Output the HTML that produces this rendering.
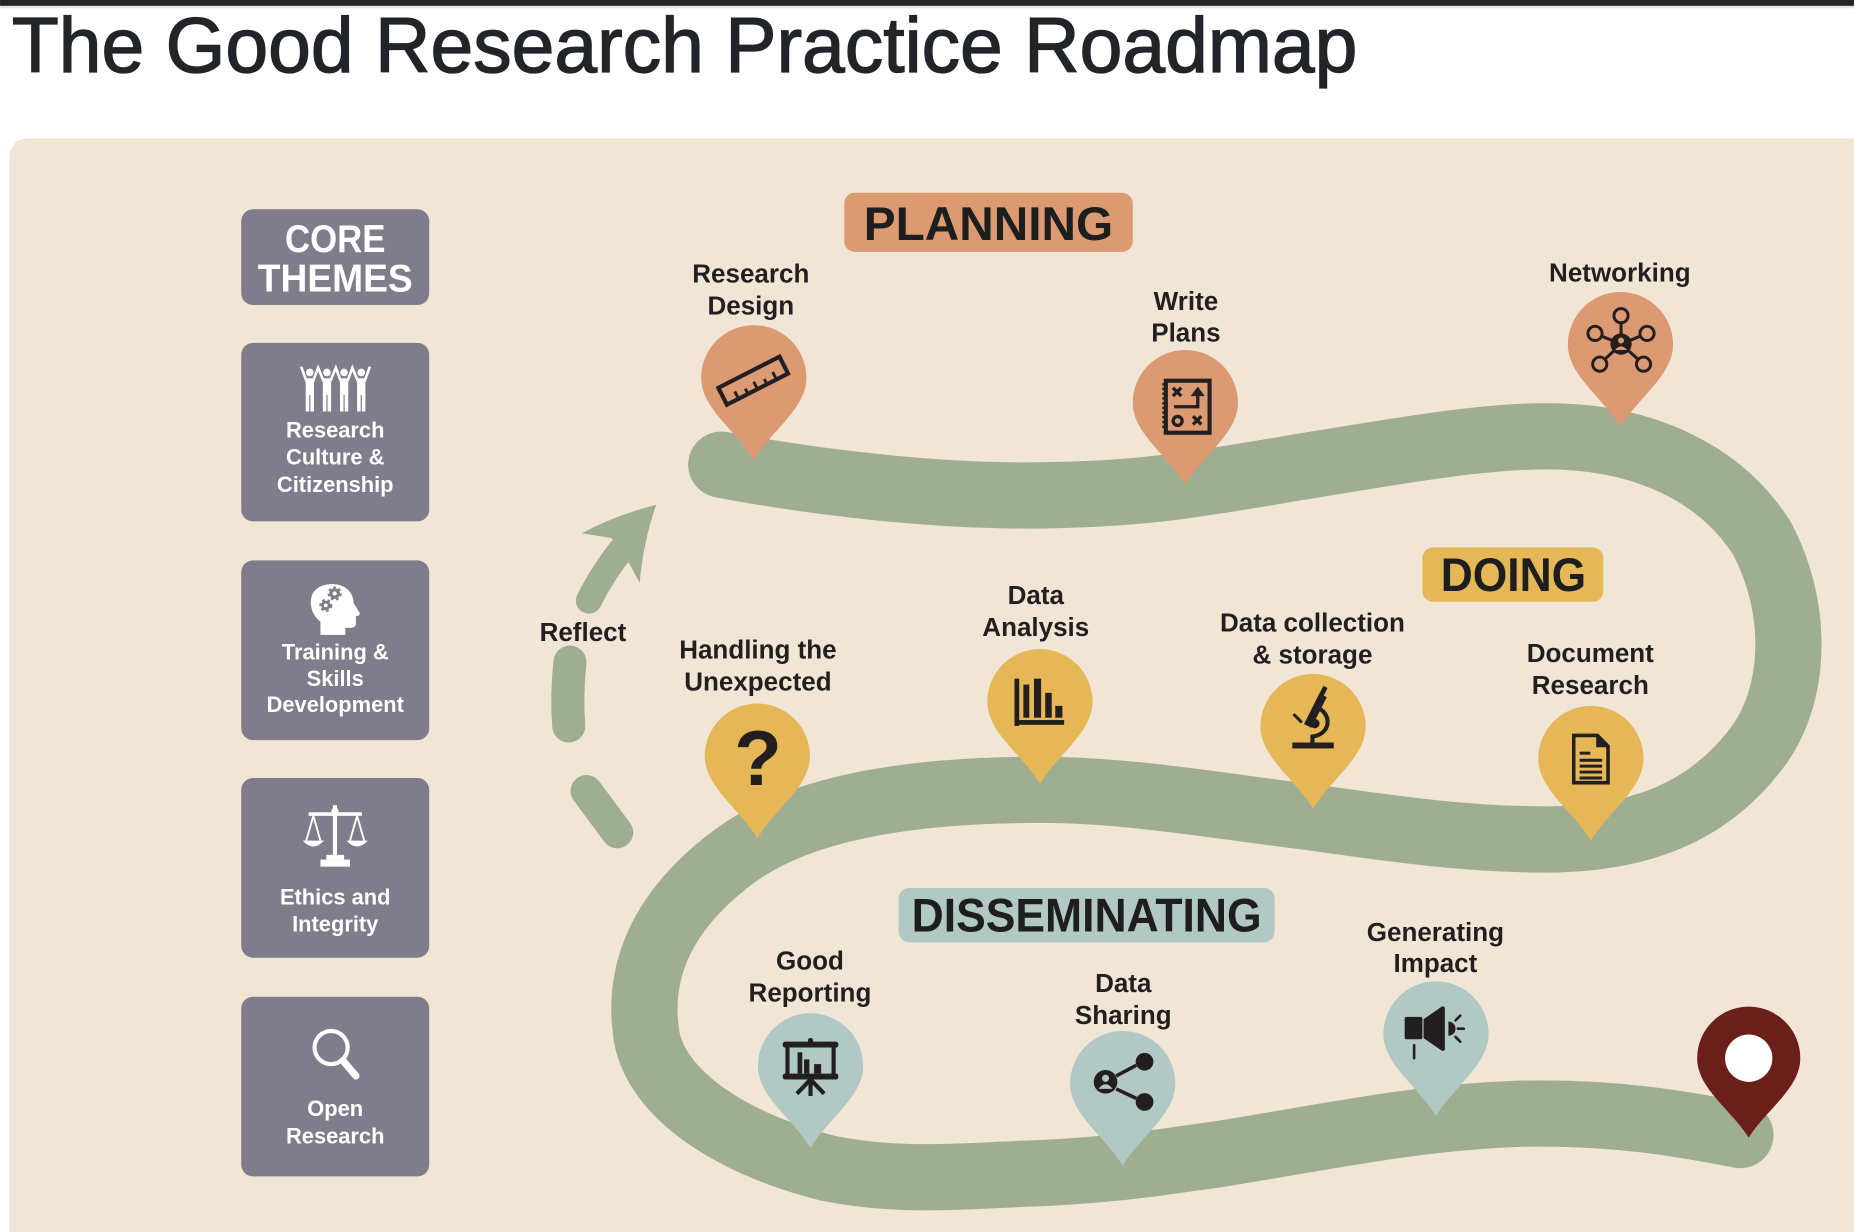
<!DOCTYPE html>
<html>
<head>
<meta charset="utf-8">
<style>
  html, body { margin:0; padding:0; background:#ffffff; }
  body { width:1854px; height:1232px; overflow:hidden; }
  svg { display:block; }
  .lbl { font-family:"Liberation Sans", Arial, sans-serif; font-weight:bold; font-size:22px; fill:#231f20; text-anchor:middle; }
  .box { font-family:"Liberation Sans", Arial, sans-serif; font-weight:bold; font-size:18.5px; fill:#ffffff; text-anchor:middle; }
  .phase { font-family:"Liberation Sans", Arial, sans-serif; font-weight:bold; font-size:40px; fill:#1e1e1e; text-anchor:middle; }
</style>
</head>
<body>
<svg width="1854" height="1232" viewBox="0 0 1568 1042" xmlns="http://www.w3.org/2000/svg">
  <!-- top bar -->
  <rect x="0" y="0" width="1568" height="5" fill="#212529"/>
  <rect x="0" y="5" width="1568" height="2" fill="#e4e6e9"/>
  <!-- title -->
  <text x="10" y="61" font-family="Liberation Sans, Arial, sans-serif" font-size="66" fill="#212529" stroke="#212529" stroke-width="1.1" textLength="1138" lengthAdjust="spacingAndGlyphs">The Good Research Practice Roadmap</text>

  <!-- panel -->
  <rect x="8" y="117" width="1600" height="960" rx="15" fill="#f1e6d6"/>

  <!-- left column boxes -->
  <g fill="#7f7c8b">
    <rect x="204" y="177" width="159" height="81" rx="10"/>
    <rect x="204" y="290" width="159" height="151" rx="10"/>
    <rect x="204" y="474" width="159" height="152" rx="10"/>
    <rect x="204" y="658" width="159" height="152" rx="10"/>
    <rect x="204" y="843" width="159" height="152" rx="10"/>
  </g>
  <text x="283.5" y="213" font-family="Liberation Sans, Arial, sans-serif" font-weight="bold" font-size="33" fill="#fff" text-anchor="middle" textLength="85" lengthAdjust="spacingAndGlyphs">CORE</text>
  <text x="283.5" y="246.5" font-family="Liberation Sans, Arial, sans-serif" font-weight="bold" font-size="33" fill="#fff" text-anchor="middle" textLength="131" lengthAdjust="spacingAndGlyphs">THEMES</text>

  <!-- people icon -->
  <g fill="#fff" stroke="none">
    <g>
      <circle cx="262" cy="315" r="3.2"/><rect x="258.5" y="320" width="7" height="14"/>
      <rect x="258.5" y="333" width="3" height="15"/><rect x="262.5" y="333" width="3" height="15"/>
    </g>
    <g>
      <circle cx="276.5" cy="315" r="3.2"/><rect x="273" y="320" width="7" height="14"/>
      <rect x="273" y="333" width="3" height="15"/><rect x="277" y="333" width="3" height="15"/>
    </g>
    <g>
      <circle cx="291" cy="315" r="3.2"/><rect x="287.5" y="320" width="7" height="14"/>
      <rect x="287.5" y="333" width="3" height="15"/><rect x="291.5" y="333" width="3" height="15"/>
    </g>
    <g>
      <circle cx="305.5" cy="315" r="3.2"/><rect x="302" y="320" width="7" height="14"/>
      <rect x="302" y="333" width="3" height="15"/><rect x="306" y="333" width="3" height="15"/>
    </g>
  </g>
  <g stroke="#fff" stroke-width="2.2" fill="none" stroke-linecap="round">
    <polyline points="255,311 259,322"/><polyline points="265,322 269,311 273.5,322"/>
    <polyline points="279.5,322 284,311 288,322"/><polyline points="294,322 298,311 302.5,322"/>
    <polyline points="308.5,322 312.5,311"/>
  </g>
  <text class="box" x="283.5" y="370">Research</text>
  <text class="box" x="283.5" y="393">Culture &amp;</text>
  <text class="box" x="283.5" y="416">Citizenship</text>

  <!-- head icon -->
  <path d="M271,537 L271,526 C265,521 262,514 263,507 C264,498 272,494 281,494 C292,494 299,501 299,510 L304,518 C305,520 303,521 301,521 L301,527 C301,530 299,531 296,531 L292,531 L292,537 Z" fill="#fff"/>
  <circle cx="283" cy="502" r="4.5" fill="#7f7c8b" stroke="#7f7c8b" stroke-width="3" stroke-dasharray="2 2"/>
  <circle cx="283" cy="502" r="1.8" fill="#fff"/>
  <circle cx="275.5" cy="512" r="4" fill="#7f7c8b" stroke="#7f7c8b" stroke-width="3" stroke-dasharray="2 2"/>
  <circle cx="275.5" cy="512" r="1.6" fill="#fff"/>
  <text class="box" x="283.5" y="558">Training &amp;</text>
  <text class="box" x="283.5" y="580">Skills</text>
  <text class="box" x="283.5" y="602">Development</text>

  <!-- scales icon -->
  <g fill="#fff">
    <rect x="281.5" y="681" width="3.5" height="46"/>
    <rect x="276" y="723" width="15" height="4"/>
    <rect x="271" y="727" width="25" height="6"/>
    <rect x="261" y="687" width="45" height="3"/>
    <circle cx="283.3" cy="686" r="3"/>
    <path d="M256,711 L274,711 Q265,721 256,711 Z"/>
    <path d="M293,711 L311,711 Q302,721 293,711 Z"/>
  </g>
  <g stroke="#fff" stroke-width="1.6" fill="none">
    <polyline points="259,711 265,690 271,711"/>
    <polyline points="296,711 302,690 308,711"/>
  </g>
  <text class="box" x="283.5" y="765">Ethics and</text>
  <text class="box" x="283.5" y="788">Integrity</text>

  <!-- magnifier -->
  <circle cx="280" cy="886" r="14" fill="none" stroke="#fff" stroke-width="3.5"/>
  <line x1="290" y1="897" x2="301" y2="910" stroke="#fff" stroke-width="6" stroke-linecap="round"/>
  <text class="box" x="283.5" y="944">Open</text>
  <text class="box" x="283.5" y="967">Research</text>

  <!-- reflect arrow -->
  <g stroke="#9fae91" stroke-linecap="round" fill="none">
    <line x1="496" y1="669" x2="522" y2="704" stroke-width="27"/>
    <path d="M482,560 Q479,588 481,614" stroke-width="28"/>
    <path d="M498,508 Q510,484 527,463" stroke-width="22"/>
  </g>
  <path d="M555,427 Q522,435 492,451 L517,455 L533,478 L541,493 Q544,458 555,427 Z" fill="#9fae91"/>
  <text class="lbl" x="493" y="542">Reflect</text>

  <!-- road -->
  <path d="M610,393 C700,410 800,420 880,419 C960,418 1000,412 1099,395 C1180,382 1250,369 1308,369 C1390,369 1455,400 1490,455 C1522,515 1520,590 1484,635 C1445,685 1390,710 1308,710 C1230,710 1160,698 1099,690 C1020,680 950,668 880,668 C780,668 680,680 620,725 C560,770 540,820 546,870 C550,920 610,965 700,988 C760,1000 810,995 860,993 C950,990 1000,980 1032,976 C1130,960 1200,945 1285,942 C1370,940 1430,952 1472,960" fill="none" stroke="#9fae91" stroke-width="56" stroke-linecap="round" stroke-linejoin="round"/>

  <!-- phase labels -->
  <rect x="714" y="163" width="244" height="50" rx="9" fill="#dc9a72"/>
  <text class="phase" x="836" y="203" textLength="211" lengthAdjust="spacingAndGlyphs">PLANNING</text>
  <rect x="1203" y="463" width="153" height="46" rx="9" fill="#e6b757"/>
  <text class="phase" x="1280" y="500" textLength="123" lengthAdjust="spacingAndGlyphs">DOING</text>
  <rect x="760" y="751" width="318" height="46" rx="9" fill="#b1c8c4"/>
  <text class="phase" x="919" y="788" textLength="296" lengthAdjust="spacingAndGlyphs">DISSEMINATING</text>

  <!-- pins -->
  <g>
    <path transform="translate(637.5,319.5)" d="M0,69.5 C-15,44.5 -44.5,26 -44.5,0 A44.5,44.5 0 0 1 44.5,0 C44.5,26 15,44.5 0,69.5Z" fill="#dc9a72"/>
    <path transform="translate(1002.5,340.5)" d="M0,69.5 C-15,44.5 -44.5,26 -44.5,0 A44.5,44.5 0 0 1 44.5,0 C44.5,26 15,44.5 0,69.5Z" fill="#dc9a72"/>
    <path transform="translate(1370.5,291.5)" d="M0,69.5 C-15,44.5 -44.5,26 -44.5,0 A44.5,44.5 0 0 1 44.5,0 C44.5,26 15,44.5 0,69.5Z" fill="#dc9a72"/>
    <path transform="translate(640.5,639.5)" d="M0,69.5 C-15,44.5 -44.5,26 -44.5,0 A44.5,44.5 0 0 1 44.5,0 C44.5,26 15,44.5 0,69.5Z" fill="#e6b757"/>
    <path transform="translate(879.5,593.5)" d="M0,69.5 C-15,44.5 -44.5,26 -44.5,0 A44.5,44.5 0 0 1 44.5,0 C44.5,26 15,44.5 0,69.5Z" fill="#e6b757"/>
    <path transform="translate(1110.5,614.5)" d="M0,69.5 C-15,44.5 -44.5,26 -44.5,0 A44.5,44.5 0 0 1 44.5,0 C44.5,26 15,44.5 0,69.5Z" fill="#e6b757"/>
    <path transform="translate(1345.5,641.5)" d="M0,69.5 C-15,44.5 -44.5,26 -44.5,0 A44.5,44.5 0 0 1 44.5,0 C44.5,26 15,44.5 0,69.5Z" fill="#e6b757"/>
    <path transform="translate(685.5,901.5)" d="M0,69.5 C-15,44.5 -44.5,26 -44.5,0 A44.5,44.5 0 0 1 44.5,0 C44.5,26 15,44.5 0,69.5Z" fill="#b1c8c4"/>
    <path transform="translate(949.5,916.5)" d="M0,69.5 C-15,44.5 -44.5,26 -44.5,0 A44.5,44.5 0 0 1 44.5,0 C44.5,26 15,44.5 0,69.5Z" fill="#b1c8c4"/>
    <path transform="translate(1214.5,874.5)" d="M0,69.5 C-15,44.5 -44.5,26 -44.5,0 A44.5,44.5 0 0 1 44.5,0 C44.5,26 15,44.5 0,69.5Z" fill="#b1c8c4"/>
    <path transform="translate(1479,895) scale(0.98)" d="M0,68.5 C-15,44.5 -44.5,26 -44.5,0 A44.5,44.5 0 0 1 44.5,0 C44.5,26 15,44.5 0,68.5Z" fill="#6b1f1b"/>
    <circle cx="1479" cy="895" r="20" fill="#ffffff"/>
  </g>

  <!-- pin icons -->
  <!-- ruler -->
  <g transform="translate(637,322) rotate(-27)" stroke="#231f20" fill="none" stroke-width="3.5">
    <rect x="-29" y="-8" width="58" height="16"/>
    <g stroke-width="2.5">
      <line x1="-18" y1="8" x2="-18" y2="1"/><line x1="-9" y1="8" x2="-9" y2="3"/>
      <line x1="0" y1="8" x2="0" y2="1"/><line x1="9" y1="8" x2="9" y2="3"/>
      <line x1="18" y1="8" x2="18" y2="1"/>
    </g>
  </g>
  <!-- write plans -->
  <g stroke="#231f20" fill="none">
    <rect x="986" y="322" width="37" height="44" stroke-width="3.5"/>
    <line x1="984" y1="324" x2="984" y2="364" stroke-width="2" stroke-dasharray="2 2"/>
    <g stroke-width="2.8">
      <line x1="992" y1="328" x2="999" y2="335"/><line x1="999" y1="328" x2="992" y2="335"/>
      <polyline points="993,344 1013,344 1013,333"/>
      <circle cx="996" cy="356" r="3.8"/>
      <line x1="1009" y1="352" x2="1016" y2="359"/><line x1="1016" y1="352" x2="1009" y2="359"/>
    </g>
  </g>
  <polygon points="1007,335 1013,327 1019,335" fill="#231f20"/>
  <!-- networking -->
  <g stroke="#231f20" stroke-width="2.6">
    <line x1="1371" y1="291" x2="1371" y2="267"/>
    <line x1="1371" y1="291" x2="1349" y2="282"/>
    <line x1="1371" y1="291" x2="1393" y2="282"/>
    <line x1="1371" y1="291" x2="1353" y2="308"/>
    <line x1="1371" y1="291" x2="1390" y2="308"/>
  </g>
  <g stroke="#231f20" stroke-width="2.5" fill="#dc9a72">
    <circle cx="1371" cy="267" r="6"/><circle cx="1349" cy="282" r="6"/>
    <circle cx="1393" cy="282" r="6"/><circle cx="1353" cy="308" r="6"/>
    <circle cx="1390" cy="308" r="6"/>
  </g>
  <circle cx="1371" cy="291" r="9" fill="#231f20"/>
  <circle cx="1371" cy="288" r="2.5" fill="#dc9a72"/>
  <path d="M1366,296 Q1371,290 1376,296 Z" fill="#dc9a72"/>
  <!-- question mark -->
  <text x="641" y="664" font-family="Liberation Sans, Arial, sans-serif" font-weight="bold" font-size="66" fill="#231f20" text-anchor="middle">?</text>
  <!-- bar chart -->
  <g fill="#231f20">
    <rect x="858" y="574" width="4" height="40"/>
    <rect x="858" y="609" width="42" height="4"/>
    <rect x="865.5" y="579" width="5" height="28"/>
    <rect x="874.5" y="574" width="6" height="33"/>
    <rect x="884" y="586" width="5.5" height="21"/>
    <rect x="892.5" y="597" width="6" height="10"/>
  </g>
  <!-- microscope -->
  <g stroke="#231f20" fill="none" stroke-linecap="butt">
    <rect x="1093" y="628" width="35" height="5" fill="#231f20" stroke="none"/>
    <path d="M1110,628 L1110,623 C1126,621 1127,603 1113,598" stroke-width="3.5"/>
    <line x1="1106" y1="614" x2="1119" y2="588" stroke-width="7"/>
    <line x1="1117" y1="589" x2="1121" y2="581" stroke-width="4"/>
    <line x1="1094" y1="604" x2="1101" y2="611" stroke-width="2.5"/>
    <circle cx="1112" cy="612" r="4" fill="#231f20" stroke="none"/>
  </g>
  <!-- document -->
  <g stroke="#231f20" fill="none" stroke-width="3">
    <path d="M1331,622 L1351,622 L1360,631 L1360,662 L1331,662 Z"/>
  </g>
  <path d="M1350,621 L1361,632 L1350,632 Z" fill="#231f20"/>
  <g stroke="#231f20" stroke-width="2.5">
    <line x1="1336" y1="637" x2="1345" y2="637"/>
    <line x1="1336" y1="643" x2="1355" y2="643"/>
    <line x1="1336" y1="648" x2="1355" y2="648"/>
    <line x1="1336" y1="653" x2="1355" y2="653"/>
    <line x1="1336" y1="658" x2="1355" y2="658"/>
  </g>
  <!-- presentation board -->
  <g fill="#231f20">
    <rect x="662" y="881" width="47" height="5" rx="2"/>
    <circle cx="685.5" cy="880" r="2.2"/>
    <rect x="662" y="908" width="47" height="5" rx="2"/>
    <rect x="674.5" y="890" width="4" height="18"/>
    <rect x="680" y="896" width="4.5" height="12"/>
    <rect x="688.5" y="900" width="6" height="8"/>
  </g>
  <g stroke="#231f20" stroke-width="3.5" fill="none">
    <line x1="666" y1="885" x2="666" y2="909"/>
    <line x1="705" y1="885" x2="705" y2="909"/>
    <line x1="685.5" y1="913" x2="674" y2="925"/>
    <line x1="685.5" y1="913" x2="697" y2="925"/>
    <line x1="685.5" y1="913" x2="685.5" y2="927"/>
  </g>
  <!-- share -->
  <g stroke="#231f20" stroke-width="3">
    <line x1="944" y1="910" x2="961" y2="901"/>
    <line x1="944" y1="921" x2="961" y2="929"/>
  </g>
  <circle cx="935" cy="915" r="10" fill="#231f20"/>
  <circle cx="935" cy="912" r="3" fill="#b1c8c4"/>
  <path d="M929,921 Q935,913 941,921 Z" fill="#b1c8c4"/>
  <circle cx="968" cy="898" r="7.5" fill="#231f20"/>
  <circle cx="968" cy="932" r="7.5" fill="#231f20"/>
  <!-- megaphone -->
  <g fill="#231f20">
    <rect x="1188" y="860" width="15" height="19" rx="1.5"/>
    <polygon points="1204,862 1220,851 1222,852 1222,888 1220,889 1204,878"/>
    <path d="M1225,864 A6,6 0 0 1 1225,876 Z"/>
  </g>
  <g stroke="#231f20" stroke-width="2.2" stroke-linecap="round">
    <line x1="1196" y1="884" x2="1196" y2="895"/>
    <line x1="1231" y1="863" x2="1235" y2="859"/>
    <line x1="1233" y1="870" x2="1238" y2="870"/>
    <line x1="1231" y1="877" x2="1235" y2="881"/>
  </g>

  <!-- node labels -->
  <text class="lbl" x="635" y="239">Research</text>
  <text class="lbl" x="635" y="266">Design</text>
  <text class="lbl" x="1003" y="262">Write</text>
  <text class="lbl" x="1003" y="289">Plans</text>
  <text class="lbl" x="1370" y="238">Networking</text>
  <text class="lbl" x="641" y="557">Handling the</text>
  <text class="lbl" x="641" y="584">Unexpected</text>
  <text class="lbl" x="876" y="511">Data</text>
  <text class="lbl" x="876" y="538">Analysis</text>
  <text class="lbl" x="1110" y="534">Data collection</text>
  <text class="lbl" x="1110" y="561">&amp; storage</text>
  <text class="lbl" x="1345" y="560">Document</text>
  <text class="lbl" x="1345" y="587">Research</text>
  <text class="lbl" x="685" y="820">Good</text>
  <text class="lbl" x="685" y="847">Reporting</text>
  <text class="lbl" x="950" y="839">Data</text>
  <text class="lbl" x="950" y="866">Sharing</text>
  <text class="lbl" x="1214" y="796">Generating</text>
  <text class="lbl" x="1214" y="822">Impact</text>
</svg>
</body>
</html>
